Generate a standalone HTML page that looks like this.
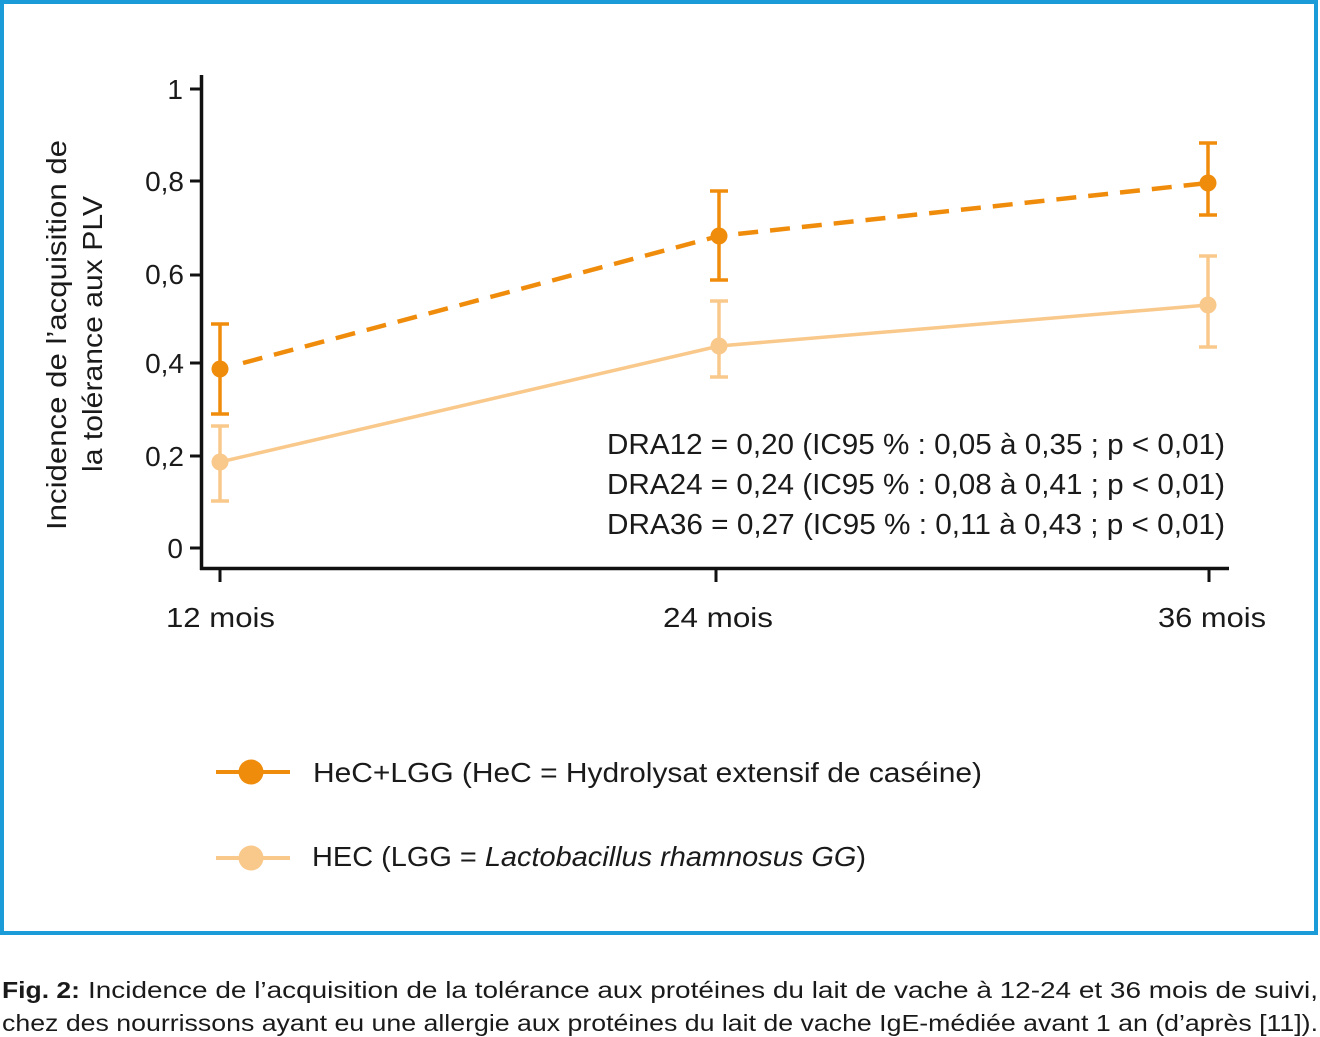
<!DOCTYPE html>
<html>
<head>
<meta charset="utf-8">
<style>
  html, body { margin: 0; padding: 0; background: #ffffff; }
  body { width: 1320px; height: 1037px; overflow: hidden; }
  svg { display: block; }
  text { font-family: "Liberation Sans", "DejaVu Sans", sans-serif; fill: #1a1a1a; }
</style>
</head>
<body>
<svg width="1320" height="1037" viewBox="0 0 1320 1037" xmlns="http://www.w3.org/2000/svg">
  <rect x="0" y="0" width="1320" height="1037" fill="#ffffff"/>
  <!-- blue frame -->
  <rect x="2" y="2" width="1314" height="931" fill="none" stroke="#1b9bd7" stroke-width="4"/>

  <!-- axes -->
  <line x1="201.5" y1="75" x2="201.5" y2="570" stroke="#111" stroke-width="3.5"/>
  <line x1="200" y1="568.5" x2="1229" y2="568.5" stroke="#111" stroke-width="3.5"/>
  <!-- y ticks -->
  <g stroke="#111" stroke-width="3">
    <line x1="190" y1="89" x2="202" y2="89"/>
    <line x1="190" y1="181" x2="202" y2="181"/>
    <line x1="190" y1="275" x2="202" y2="275"/>
    <line x1="190" y1="363" x2="202" y2="363"/>
    <line x1="190" y1="456" x2="202" y2="456"/>
    <line x1="190" y1="548" x2="202" y2="548"/>
    <!-- x ticks -->
    <line x1="220" y1="568" x2="220" y2="582"/>
    <line x1="716" y1="568" x2="716" y2="582"/>
    <line x1="1209" y1="568" x2="1209" y2="582"/>
  </g>
  <!-- y tick labels -->
  <g font-size="28" text-anchor="end">
    <text x="183" y="99">1</text>
    <text x="184" y="191">0,8</text>
    <text x="184" y="284">0,6</text>
    <text x="184" y="373">0,4</text>
    <text x="184" y="466">0,2</text>
    <text x="183" y="558">0</text>
  </g>
  <!-- x tick labels -->
  <g font-size="28">
    <text x="166" y="627" textLength="109" lengthAdjust="spacingAndGlyphs">12 mois</text>
    <text x="663" y="627" textLength="110" lengthAdjust="spacingAndGlyphs">24 mois</text>
    <text x="1158" y="627" textLength="108" lengthAdjust="spacingAndGlyphs">36 mois</text>
  </g>
  <!-- y axis title -->
  <g font-size="28">
    <text transform="translate(66,530) rotate(-90)" textLength="390" lengthAdjust="spacingAndGlyphs">Incidence de l’acquisition de</text>
    <text transform="translate(102,472) rotate(-90)" textLength="276" lengthAdjust="spacingAndGlyphs">la tolérance aux PLV</text>
  </g>

  <!-- light series (HEC) -->
  <g stroke="#f9c88b" stroke-width="3.5" fill="none">
    <polyline points="220,462 719,346 1208,305"/>
    <line x1="220" y1="426" x2="220" y2="501"/>
    <line x1="211" y1="426" x2="229" y2="426"/>
    <line x1="211" y1="501" x2="229" y2="501"/>
    <line x1="719" y1="301" x2="719" y2="377"/>
    <line x1="710" y1="301" x2="728" y2="301"/>
    <line x1="710" y1="377" x2="728" y2="377"/>
    <line x1="1208" y1="256" x2="1208" y2="347"/>
    <line x1="1199" y1="256" x2="1217" y2="256"/>
    <line x1="1199" y1="347" x2="1217" y2="347"/>
  </g>
  <g fill="#f9c88b">
    <circle cx="220" cy="462" r="8.5"/>
    <circle cx="719" cy="346" r="8.5"/>
    <circle cx="1208" cy="305" r="8.5"/>
  </g>

  <!-- dark series (HeC+LGG) -->
  <polyline points="243,363 719,236 1208,183" fill="none" stroke="#f08c0c" stroke-width="4.5" stroke-dasharray="20 12"/>
  <g stroke="#f08c0c" stroke-width="3.5" fill="none">
    <line x1="220" y1="324" x2="220" y2="414"/>
    <line x1="211" y1="324" x2="229" y2="324"/>
    <line x1="211" y1="414" x2="229" y2="414"/>
    <line x1="719" y1="191" x2="719" y2="280"/>
    <line x1="710" y1="191" x2="728" y2="191"/>
    <line x1="710" y1="280" x2="728" y2="280"/>
    <line x1="1208" y1="143" x2="1208" y2="215"/>
    <line x1="1199" y1="143" x2="1217" y2="143"/>
    <line x1="1199" y1="215" x2="1217" y2="215"/>
  </g>
  <g fill="#f08c0c">
    <circle cx="220" cy="369" r="8.5"/>
    <circle cx="719" cy="236" r="8.5"/>
    <circle cx="1208" cy="183" r="8.5"/>
  </g>

  <!-- DRA annotations -->
  <g font-size="29">
    <text x="607" y="454" textLength="618" lengthAdjust="spacingAndGlyphs">DRA12 = 0,20 (IC95 % : 0,05 à 0,35 ; p &lt; 0,01)</text>
    <text x="607" y="494" textLength="618" lengthAdjust="spacingAndGlyphs">DRA24 = 0,24 (IC95 % : 0,08 à 0,41 ; p &lt; 0,01)</text>
    <text x="607" y="534" textLength="618" lengthAdjust="spacingAndGlyphs">DRA36 = 0,27 (IC95 % : 0,11 à 0,43 ; p &lt; 0,01)</text>
  </g>

  <!-- legend -->
  <line x1="216" y1="772" x2="290" y2="772" stroke="#f08c0c" stroke-width="4"/>
  <circle cx="251" cy="772" r="12.5" fill="#f08c0c"/>
  <line x1="216" y1="858" x2="290" y2="858" stroke="#f9c88b" stroke-width="4"/>
  <circle cx="251" cy="858" r="12.5" fill="#f9c88b"/>
  <g font-size="28">
    <text x="313" y="782" textLength="669" lengthAdjust="spacingAndGlyphs">HeC+LGG (HeC = Hydrolysat extensif de caséine)</text>
    <text x="312" y="866" textLength="554" lengthAdjust="spacingAndGlyphs">HEC (LGG = <tspan font-style="italic">Lactobacillus rhamnosus GG</tspan>)</text>
  </g>

  <!-- caption -->
  <g font-size="23">
    <text x="2" y="998" font-weight="bold" textLength="78" lengthAdjust="spacingAndGlyphs">Fig. 2:</text>
    <text x="88" y="998" textLength="1230" lengthAdjust="spacingAndGlyphs">Incidence de l’acquisition de la tolérance aux protéines du lait de vache à 12-24 et 36 mois de suivi,</text>
    <text x="2" y="1031" textLength="1316" lengthAdjust="spacingAndGlyphs">chez des nourrissons ayant eu une allergie aux protéines du lait de vache IgE-médiée avant 1 an (d’après [11]).</text>
  </g>
</svg>
</body>
</html>
